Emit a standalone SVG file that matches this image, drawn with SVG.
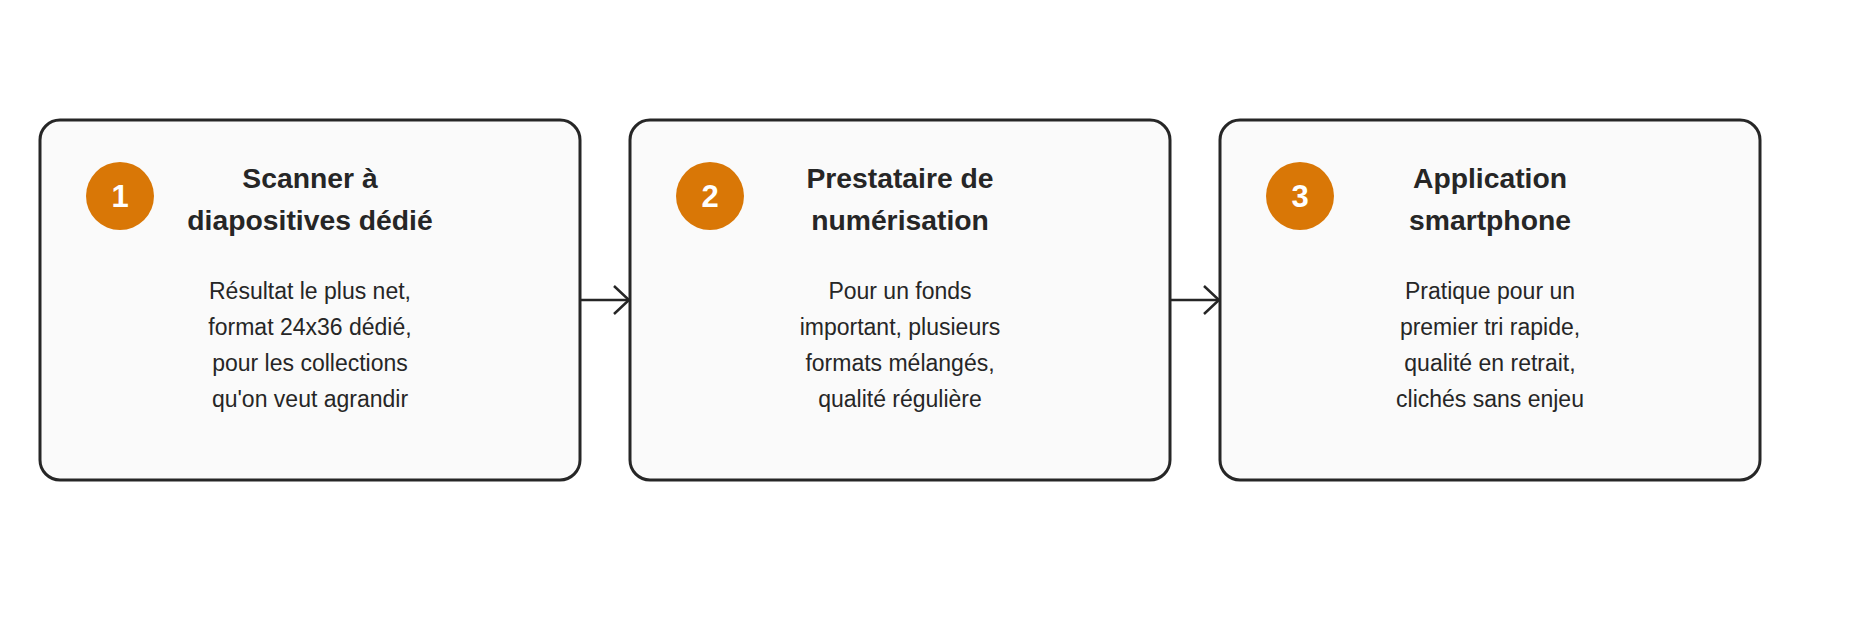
<svg xmlns="http://www.w3.org/2000/svg" width="1860" height="640" viewBox="0 0 1860 640">
<style>
.box{fill:#fafafa;stroke:#262626;stroke-width:3}
.badge{fill:#d97706}
.num{font-family:"Liberation Sans",Arial,sans-serif;font-weight:bold;font-size:31px;fill:#ffffff;text-anchor:middle}
.title{font-family:"Liberation Sans",Arial,sans-serif;font-weight:bold;font-size:28.3px;fill:#262626;text-anchor:middle}
.body{font-family:"Liberation Sans",Arial,sans-serif;font-size:23px;fill:#262626;text-anchor:middle}
.edge{fill:none;stroke:#262626;stroke-width:2.5}
</style>
<defs>
<marker id="arr" viewBox="0 0 20 30" refX="16" refY="15" markerWidth="20" markerHeight="30" markerUnits="userSpaceOnUse" orient="auto">
<path d="M1 1 L16 15 L1 29" fill="none" stroke="#262626" stroke-width="2.5"/>
</marker>
</defs>
<rect width="1860" height="640" fill="#ffffff"/>
<g id="connectors">
<line class="edge" x1="580" y1="300" x2="629" y2="300" marker-end="url(#arr)"/>
<line class="edge" x1="1170" y1="300" x2="1219" y2="300" marker-end="url(#arr)"/>
</g>
<g id="node1">
<rect class="box" x="40" y="120" width="540" height="360" rx="20"/>
<circle class="badge" cx="120" cy="196" r="34"/>
<text class="num" x="120" y="207">1</text>
<text class="title" x="310" y="188">Scanner à</text>
<text class="title" x="310" y="230">diapositives dédié</text>
<text class="body" x="310" y="299">Résultat le plus net,</text>
<text class="body" x="310" y="335">format 24x36 dédié,</text>
<text class="body" x="310" y="371">pour les collections</text>
<text class="body" x="310" y="407">qu'on veut agrandir</text>
</g>
<g id="node2">
<rect class="box" x="630" y="120" width="540" height="360" rx="20"/>
<circle class="badge" cx="710" cy="196" r="34"/>
<text class="num" x="710" y="207">2</text>
<text class="title" x="900" y="188">Prestataire de</text>
<text class="title" x="900" y="230">numérisation</text>
<text class="body" x="900" y="299">Pour un fonds</text>
<text class="body" x="900" y="335">important, plusieurs</text>
<text class="body" x="900" y="371">formats mélangés,</text>
<text class="body" x="900" y="407">qualité régulière</text>
</g>
<g id="node3">
<rect class="box" x="1220" y="120" width="540" height="360" rx="20"/>
<circle class="badge" cx="1300" cy="196" r="34"/>
<text class="num" x="1300" y="207">3</text>
<text class="title" x="1490" y="188">Application</text>
<text class="title" x="1490" y="230">smartphone</text>
<text class="body" x="1490" y="299">Pratique pour un</text>
<text class="body" x="1490" y="335">premier tri rapide,</text>
<text class="body" x="1490" y="371">qualité en retrait,</text>
<text class="body" x="1490" y="407">clichés sans enjeu</text>
</g>
</svg>
